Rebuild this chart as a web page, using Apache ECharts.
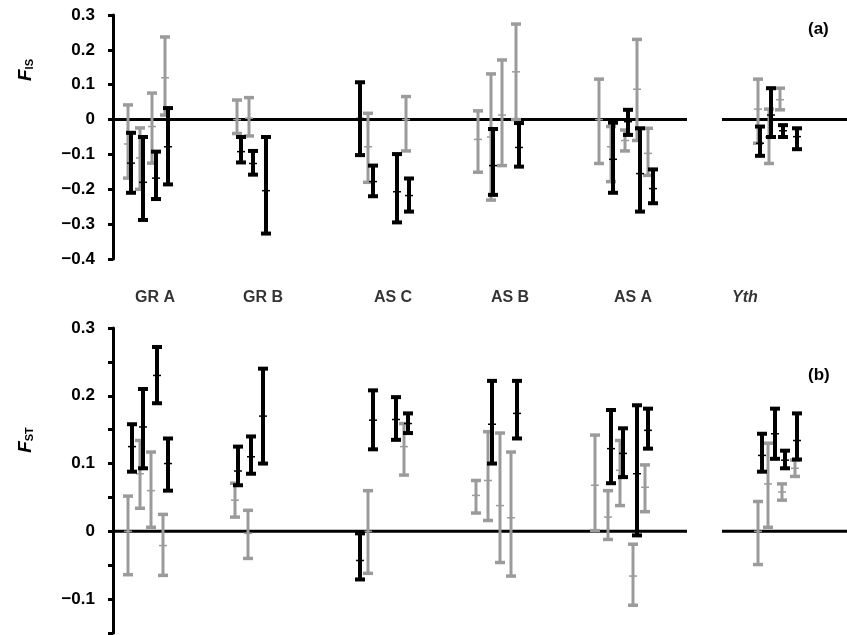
<!DOCTYPE html>
<html>
<head>
<meta charset="utf-8">
<script src="https://cdn.jsdelivr.net/npm/echarts@6/dist/echarts.min.js"></script>
<style>html,body{margin:0;padding:0;background:#fff}#c{width:847px;height:635px}</style>
</head>
<body>
<div id="c"></div>
<script>
// Each bar: [position, low, estimate, high]
const groupNames = ['GR A', 'GR B', 'AS C', 'AS B', 'AS A', 'Yth'];
const groupLabelPos = [42, 150, 280, 397, 520, 632];

const fisGrey = [
  [15, -0.168, -0.070, 0.042], [27, -0.200, -0.110, -0.024], [39, -0.125, -0.020, 0.076], [52, 0.013, 0.120, 0.237],
  [124, -0.040, 0.000, 0.056], [136, -0.047, 0.004, 0.063],
  [255, -0.180, -0.078, 0.018], [293, -0.090, 0.000, 0.066],
  [365, -0.151, -0.057, 0.025], [378, -0.231, -0.050, 0.131], [389, -0.132, 0.013, 0.171], [403, 0.000, 0.137, 0.274],
  [486, -0.126, 0.000, 0.116], [498, -0.178, -0.078, -0.020], [512, -0.090, -0.060, -0.030], [524, -0.060, 0.087, 0.230], [535, -0.160, -0.097, -0.025],
  [645, -0.068, 0.030, 0.116], [656, -0.126, -0.050, 0.030], [667, 0.028, 0.057, 0.090]
];
const fisBlack = [
  [18, -0.210, -0.125, -0.038], [30, -0.288, -0.180, -0.050], [43, -0.228, -0.168, -0.092], [55, -0.186, -0.078, 0.033],
  [128, -0.123, -0.092, -0.050], [140, -0.158, -0.126, -0.090], [153, -0.327, -0.204, -0.050],
  [247, -0.102, 0.003, 0.107], [260, -0.220, -0.178, -0.132], [284, -0.295, -0.207, -0.099], [296, -0.264, -0.218, -0.169],
  [380, -0.216, -0.132, -0.027], [406, -0.135, -0.080, -0.010],
  [500, -0.210, -0.114, -0.009], [515, -0.044, -0.006, 0.028], [527, -0.264, -0.155, -0.025], [540, -0.240, -0.198, -0.143],
  [647, -0.104, -0.068, -0.020], [658, -0.050, 0.013, 0.090], [670, -0.050, -0.032, -0.016], [684, -0.085, -0.049, -0.025]
];
const fstGrey = [
  [15, -0.064, 0.000, 0.052], [27, 0.034, 0.085, 0.134], [38, 0.006, 0.060, 0.117], [50, -0.065, -0.021, 0.025],
  [122, 0.021, 0.046, 0.071], [135, -0.040, -0.003, 0.031],
  [255, -0.062, 0.000, 0.060], [291, 0.083, 0.125, 0.159],
  [363, 0.027, 0.053, 0.075], [375, 0.016, 0.075, 0.147], [387, -0.046, 0.038, 0.145], [398, -0.066, 0.020, 0.117],
  [482, 0.001, 0.068, 0.142], [495, -0.012, 0.021, 0.060], [507, 0.038, 0.090, 0.134], [520, -0.109, -0.066, -0.019], [532, 0.029, 0.065, 0.098],
  [645, -0.049, 0.000, 0.044], [655, 0.006, 0.070, 0.130], [669, 0.046, 0.058, 0.070], [682, 0.081, 0.093, 0.105]
];
const fstBlack = [
  [19, 0.088, 0.125, 0.158], [30, 0.093, 0.154, 0.210], [44, 0.189, 0.230, 0.272], [55, 0.060, 0.100, 0.137],
  [125, 0.068, 0.089, 0.125], [138, 0.085, 0.110, 0.140], [150, 0.100, 0.170, 0.240],
  [247, -0.071, -0.043, -0.003], [260, 0.121, 0.164, 0.208], [283, 0.135, 0.165, 0.198], [295, 0.145, 0.159, 0.174],
  [379, 0.100, 0.158, 0.222], [404, 0.137, 0.174, 0.222],
  [498, 0.071, 0.122, 0.179], [510, 0.080, 0.115, 0.152], [524, -0.006, 0.085, 0.186], [535, 0.122, 0.149, 0.181],
  [649, 0.088, 0.112, 0.144], [662, 0.107, 0.144, 0.181], [672, 0.093, 0.105, 0.119], [684, 0.106, 0.134, 0.174]
];
// zero-line segments (x range), broken before the last group
const zeroSegments = [[0, 574], [609, 734]];

const GREY = '#9b9b9b', BLACK = '#000';
const FONT = 'Liberation Sans, Arial, sans-serif';

function errRender(color, stemW, capW, capH) {
  return function (params, api) {
    const x = api.coord([api.value(0), 0])[0];
    const yl = api.coord([api.value(0), api.value(1)])[1];
    const ym = api.coord([api.value(0), api.value(2)])[1];
    const yh = api.coord([api.value(0), api.value(3)])[1];
    return {
      type: 'group',
      children: [
        { type: 'line', shape: { x1: x, y1: yl, x2: x, y2: yh }, style: { stroke: color, lineWidth: stemW } },
        { type: 'line', shape: { x1: x - capW / 2, y1: yh, x2: x + capW / 2, y2: yh }, style: { stroke: color, lineWidth: capH } },
        { type: 'line', shape: { x1: x - capW / 2, y1: yl, x2: x + capW / 2, y2: yl }, style: { stroke: color, lineWidth: capH } },
        { type: 'line', shape: { x1: x - 4, y1: ym, x2: x + 4, y2: ym }, style: { stroke: color, lineWidth: 1.5 } }
      ]
    };
  };
}

function fmt(v) {
  if (Math.abs(v) < 1e-9) return '0';
  if (Math.abs(v * 10 - Math.round(v * 10)) > 1e-6) return '';
  return (v < 0 ? '\u2212' : '') + Math.abs(v).toFixed(1);
}

const yAxisCommon = {
  type: 'value',
  axisLine: { show: true, onZero: false, lineStyle: { color: '#000', width: 3 } },
  axisTick: { show: true, inside: false, length: 5, lineStyle: { color: '#000', width: 3 } },
  splitLine: { show: false },
  axisLabel: { color: '#000', fontFamily: FONT, fontWeight: 'bold', fontSize: 17, margin: 18, formatter: fmt }
};
const xAxisCommon = {
  type: 'value', min: 0, max: 734, show: false
};

function zeroLineSeries(idx) {
  return zeroSegments.map(s => ({
    type: 'line', xAxisIndex: idx, yAxisIndex: idx, data: [[s[0], 0], [s[1], 0]],
    symbol: 'none', lineStyle: { color: '#000', width: 3 }, silent: true, z: 1
  }));
}

const titleRich = {
  f: { fontFamily: FONT, fontStyle: 'italic', fontWeight: 'bold', fontSize: 19, fill: '#000', lineHeight: 22, verticalAlign: 'bottom' },
  s: { fontFamily: FONT, fontWeight: 'bold', fontSize: 11, fill: '#000', lineHeight: 22, verticalAlign: 'bottom' }
};

const chart = echarts.init(document.getElementById('c'));
chart.setOption({
  animation: false,
  backgroundColor: '#fff',
  grid: [
    { left: 113, right: 0, top: 15, height: 244 },
    { left: 113, right: 0, top: 328, height: 305 }
  ],
  xAxis: [Object.assign({ gridIndex: 0 }, xAxisCommon), Object.assign({ gridIndex: 1 }, xAxisCommon)],
  yAxis: [
    Object.assign({ gridIndex: 0, min: -0.4, max: 0.3, interval: 0.1 }, yAxisCommon),
    Object.assign({ gridIndex: 1, min: -0.15, max: 0.3, interval: 0.05 }, yAxisCommon)
  ],
  series: [
    ...zeroLineSeries(0),
    ...zeroLineSeries(1),
    { type: 'custom', xAxisIndex: 0, yAxisIndex: 0, data: fisGrey, renderItem: errRender(GREY, 3, 10, 3.5), clip: false, z: 2 },
    { type: 'custom', xAxisIndex: 0, yAxisIndex: 0, data: fisBlack, renderItem: errRender(BLACK, 4, 10, 4), clip: false, z: 3 },
    { type: 'custom', xAxisIndex: 1, yAxisIndex: 1, data: fstGrey, renderItem: errRender(GREY, 3, 10, 3.5), clip: false, z: 2 },
    { type: 'custom', xAxisIndex: 1, yAxisIndex: 1, data: fstBlack, renderItem: errRender(BLACK, 4, 10, 4), clip: false, z: 3 },
    {
      type: 'scatter', xAxisIndex: 1, yAxisIndex: 1, symbolSize: 0, silent: true,
      data: groupLabelPos.map((p, i) => ({
        value: [p, 0.3],
        label: {
          show: true, position: 'top', distance: 22, formatter: groupNames[i],
          color: '#000', fontFamily: FONT, fontWeight: 'bold', fontSize: 16,
          fontStyle: groupNames[i] === 'Yth' ? 'italic' : 'normal'
        }
      }))
    }
  ],
  graphic: [
    { type: 'text', left: 808, top: 21, style: { text: '(a)', fill: '#000', font: 'bold 17px Liberation Sans, Arial, sans-serif' } },
    { type: 'text', left: 808, top: 367, style: { text: '(b)', fill: '#000', font: 'bold 17px Liberation Sans, Arial, sans-serif' } },
    {
      type: 'text', x: 24, y: 70, rotation: Math.PI / 2,
      style: { text: '{f|F}{s|IS}', align: 'center', verticalAlign: 'middle', rich: titleRich }
    },
    {
      type: 'text', x: 24, y: 440, rotation: Math.PI / 2,
      style: { text: '{f|F}{s|ST}', align: 'center', verticalAlign: 'middle', rich: titleRich }
    }
  ]
});
</script>
</body>
</html>
